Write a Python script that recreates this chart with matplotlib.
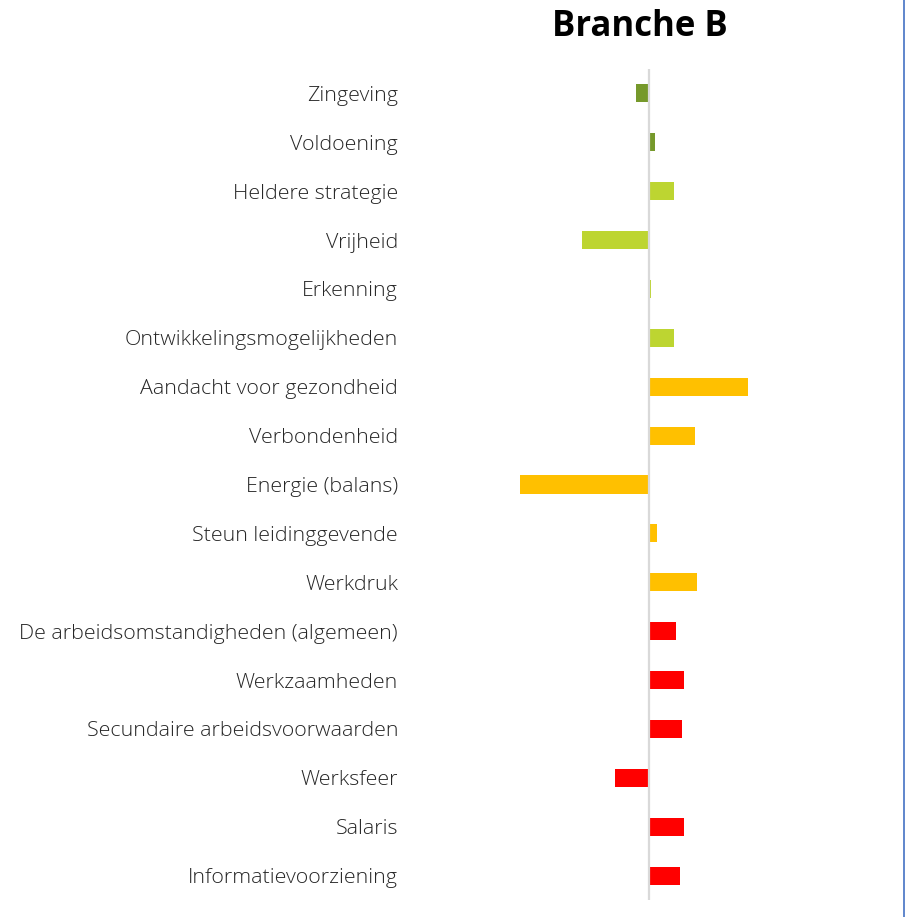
import matplotlib
matplotlib.use("Agg")
import matplotlib.pyplot as plt

# categories from top to bottom
labels = ["Zingeving", "Voldoening", "Heldere strategie", "Vrijheid", "Erkenning",
          "Ontwikkelingsmogelijkheden", "Aandacht voor gezondheid", "Verbondenheid",
          "Energie (balans)", "Steun leidinggevende", "Werkdruk",
          "De arbeidsomstandigheden (algemeen)", "Werkzaamheden",
          "Secundaire arbeidsvoorwaarden", "Werksfeer", "Salaris",
          "Informatievoorziening"]
values = [-13, 6, 24.5, -67, 1.5, 25, 99, 46, -129, 8, 48, 27, 35, 33, -34, 35, 31]
groups = ["dg", "dg", "lg", "lg", "lg", "lg", "y", "y", "y", "y", "y",
          "r", "r", "r", "r", "r", "r"]
palette = {"dg": "#76992b", "lg": "#bdd531", "y": "#ffc000", "r": "#ff0000"}

plt.rcParams["font.family"] = ["Open Sans", "DejaVu Sans"]

fig = plt.figure(figsize=(9.05, 9.17), dpi=100)
W, H = 905, 917
# axes in pixel coordinates: left 410, right 890, top 69, bottom 900
ax = fig.add_axes([410 / W, 1 - 900 / H, 480 / W, 831 / H])

ypos = list(range(len(labels)))
ax.barh(ypos, values, height=0.37, color=[palette[g] for g in groups], zorder=2)
ax.axvline(0, color="#d9d9d9", lw=1.6, zorder=3)

ax.set_xlim(-239, 241)
ax.set_ylim(len(labels) - 0.5, -0.5)
ax.set_yticks(ypos)
ax.set_yticklabels(labels, fontsize=15.4, color="#262626", fontweight="light")
ax.tick_params(axis="y", length=0, pad=8.6)
ax.set_xticks([])
for s in ax.spines.values():
    s.set_visible(False)

fig.text(640 / W, 1 - 27 / H, "Branche B", ha="center", va="center",
         fontsize=25, fontweight="bold", color="black")

# right border line
fig.add_artist(plt.Line2D([903.5 / W, 903.5 / W], [0, 1], color="#4472c4", lw=1.2))

fig.savefig("out.png", dpi=100)
